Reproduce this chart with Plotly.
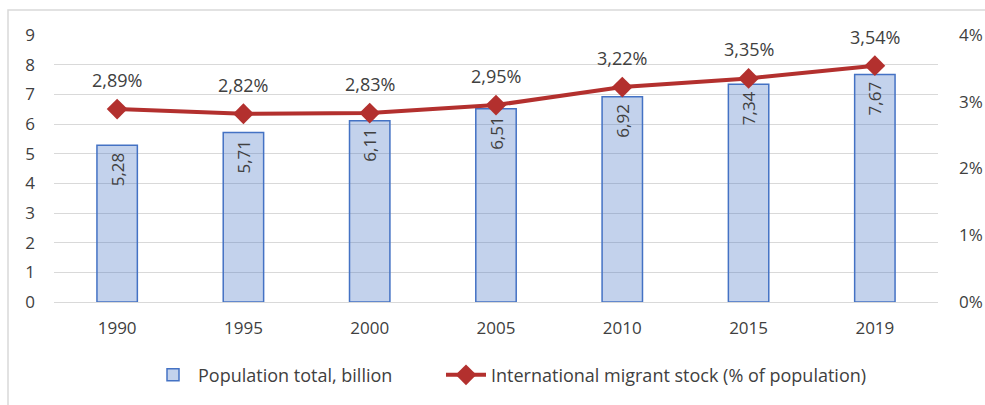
import plotly.graph_objects as go

years = ["1990", "1995", "2000", "2005", "2010", "2015", "2019"]
population = [5.28, 5.71, 6.11, 6.51, 6.92, 7.34, 7.67]
migrant_share = [0.0289, 0.0282, 0.0283, 0.0295, 0.0322, 0.0335, 0.0354]
left_ticks = [0, 1, 2, 3, 4, 5, 6, 7, 8, 9]
right_ticks = [0, 0.01, 0.02, 0.03, 0.04]

FONT = "Open Sans"
TXT = "#404040"
BAR_FILL = "rgba(68,114,196,0.32)"
BAR_LINE = "#4472C4"
RED = "#B3302E"

pos = list(range(len(years)))

fig = go.Figure()
fig.add_trace(go.Bar(
    x=pos, y=population, name="Population total, billion",
    marker=dict(color=BAR_FILL, line=dict(color=BAR_LINE, width=1.5)),
    width=[0.32] * len(pos),
    text=[f"{v:.2f}".replace(".", ",") + "\u00a0" for v in population],
    textposition="inside", insidetextanchor="end",
    textangle=-90, textfont=dict(family=FONT, size=17, color=TXT),
    hoverinfo="skip", legend="legend",
))
fig.add_trace(go.Scatter(
    x=pos, y=migrant_share, name="International migrant stock (% of population)",
    yaxis="y2", mode="lines+markers",
    line=dict(color=RED, width=4),
    marker=dict(symbol="diamond", size=16, color=RED),
    hoverinfo="skip", legend="legend2",
))
for p, v in zip(pos, migrant_share):
    fig.add_annotation(x=p, y=v, xref="x", yref="y2", text=f"{v*100:.2f}%".replace(".", ","),
                       showarrow=False, yshift=29,
                       font=dict(family=FONT, size=18, color=TXT))

leg_common = dict(orientation="h", y=-0.2, yanchor="top", xanchor="left",
                  font=dict(size=18, color=TXT), itemwidth=40, bgcolor="rgba(0,0,0,0)")

fig.update_layout(
    width=985, height=405,
    margin=dict(l=54, r=47, t=35, b=102),
    paper_bgcolor="white", plot_bgcolor="white",
    font=dict(family=FONT, size=17, color=TXT),
    xaxis=dict(range=[-0.5, 6.5], tickvals=pos, ticktext=years, showgrid=False,
               showline=False, zeroline=False, ticks="", ticklabelstandoff=14,
               tickfont=dict(size=17, color=TXT), automargin=False),
    yaxis=dict(range=[0, 9], tickvals=left_ticks, showgrid=True, gridcolor="#D9D9D9",
               gridwidth=1, zeroline=True, zerolinecolor="#D9D9D9", zerolinewidth=1,
               showline=False, ticks="", ticklabelstandoff=18, automargin=False,
               tickfont=dict(size=17, color=TXT)),
    yaxis2=dict(range=[0, 0.04], overlaying="y", side="right", tickvals=right_ticks,
                ticktext=[f"{int(round(t*100))}%" for t in right_ticks],
                showgrid=False, zeroline=False, showline=False, ticklabelstandoff=20,
                ticks="", tickfont=dict(size=17, color=TXT), automargin=False),
    legend=dict(x=(148 - 54) / 884, **leg_common),
    legend2=dict(x=(441 - 54) / 884, **leg_common),
    showlegend=True,
)
fig.add_shape(type="rect", xref="paper", yref="paper",
              x0=-46/884, x1=1.2, y0=-0.5, y1=1 + 25/268,
              line=dict(color="#D9D9D9", width=1.5), layer="below")
fig.write_html("out.html")
